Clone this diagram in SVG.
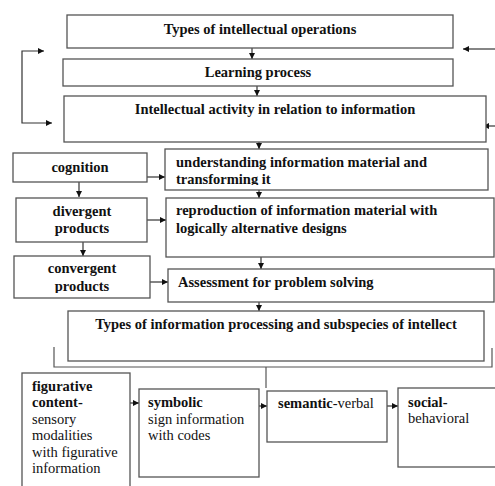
<svg xmlns="http://www.w3.org/2000/svg" width="495" height="486" viewBox="0 0 495 486">
<style>
.box{fill:#fff;stroke:#555;stroke-width:1.3}
.ln{fill:none;stroke:#333;stroke-width:1.2}
.t{font-family:"Liberation Serif","Times New Roman",serif;font-size:14.5px;fill:#111}
.b{font-weight:bold}
.c{text-anchor:middle}
</style>
<defs>
<marker id="ah" markerUnits="userSpaceOnUse" markerWidth="7" markerHeight="7" refX="6" refY="3" orient="auto-start-reverse">
<path d="M0,0 L6,3 L0,6 z" fill="#111"/>
</marker>
<clipPath id="clipU"><rect x="165" y="149" width="330" height="36"/></clipPath>
<clipPath id="clipC"><rect x="14" y="256" width="136" height="37"/></clipPath>
</defs>
<rect width="495" height="486" fill="#fff"/>
<g id="connectors">
<line class="ln" x1="252" y1="48" x2="252" y2="59" marker-end="url(#ah)"/>
<line class="ln" x1="257" y1="86" x2="257" y2="96" marker-end="url(#ah)"/>
<line class="ln" x1="259" y1="142" x2="259" y2="149" marker-end="url(#ah)"/>
<line class="ln" x1="259" y1="190" x2="259" y2="198" marker-end="url(#ah)"/>
<line class="ln" x1="261" y1="257" x2="261" y2="269" marker-end="url(#ah)"/>
<line class="ln" x1="259" y1="302" x2="259" y2="311" marker-end="url(#ah)"/>
<line class="ln" x1="147" y1="177" x2="165" y2="177" marker-end="url(#ah)"/>
<line class="ln" x1="147" y1="220" x2="166" y2="220" marker-end="url(#ah)"/>
<line class="ln" x1="150" y1="282" x2="168" y2="282" marker-end="url(#ah)"/>
<line class="ln" x1="79" y1="182" x2="79" y2="197" marker-end="url(#ah)"/>
<line class="ln" x1="83" y1="242" x2="83" y2="256" marker-end="url(#ah)"/>
<path class="ln" d="M44,51 H22 V123 H52" marker-start="url(#ah)" marker-end="url(#ah)"/>
<line class="ln" x1="495" y1="49" x2="463" y2="49" marker-end="url(#ah)"/>
<line class="ln" x1="495" y1="126" x2="483" y2="126" marker-end="url(#ah)"/>
<path class="ln" d="M54,347 V367 H492 V348" style="stroke:#555"/>
<line class="ln" x1="266" y1="367" x2="266" y2="388" style="stroke:#555"/>
<line class="ln" x1="130" y1="403" x2="139" y2="403" marker-end="url(#ah)"/>
<line class="ln" x1="259" y1="406" x2="267" y2="406" marker-end="url(#ah)"/>
<line class="ln" x1="387" y1="406" x2="398" y2="406" marker-end="url(#ah)"/>
</g>
<g id="n-types-ops">
<rect class="box" x="67" y="15" width="386" height="33"/>
<text class="t b c" x="260" y="34">Types of intellectual operations</text>
</g>
<g id="n-learning">
<rect class="box" x="63" y="59" width="390" height="27"/>
<text class="t b c" x="258" y="77">Learning process</text>
</g>
<g id="n-activity">
<rect class="box" x="64" y="96" width="422" height="46"/>
<text class="t b c" x="275" y="114">Intellectual activity in relation to information</text>
</g>
<g id="n-cognition">
<rect class="box" x="13" y="153" width="134" height="29"/>
<text class="t b c" x="80" y="172">cognition</text>
</g>
<g id="n-understanding">
<rect class="box" x="165" y="149" width="323" height="41"/>
<text class="t b" x="176" y="167">understanding information material and</text>
<text class="t b" x="176" y="184" clip-path="url(#clipU)">transforming it</text>
</g>
<g id="n-divergent">
<rect class="box" x="16" y="198" width="131" height="44"/>
<text class="t b c" x="82" y="216">divergent</text>
<text class="t b c" x="82" y="233">products</text>
</g>
<g id="n-reproduction">
<rect class="box" x="166" y="198" width="328" height="59"/>
<text class="t b" x="176" y="215">reproduction of information material with</text>
<text class="t b" x="176" y="233">logically alternative designs</text>
</g>
<g id="n-convergent">
<rect class="box" x="14" y="256" width="136" height="42"/>
<text class="t b c" x="82" y="273">convergent</text>
<text class="t b c" x="82" y="291" clip-path="url(#clipC)">products</text>
</g>
<g id="n-assessment">
<rect class="box" x="168" y="269" width="326" height="33"/>
<text class="t b" x="178" y="287">Assessment for problem solving</text>
</g>
<g id="n-types-proc">
<rect class="box" x="68" y="311" width="416" height="50"/>
<text class="t b c" x="276" y="329">Types of information processing and subspecies of intellect</text>
</g>
<g id="n-figurative">
<rect class="box" x="22" y="373" width="108" height="120"/>
<text class="t" x="32" y="391"><tspan class="b">figurative</tspan></text>
<text class="t" x="32" y="407"><tspan class="b">content-</tspan></text>
<text class="t" x="32" y="424">sensory</text>
<text class="t" x="32" y="440">modalities</text>
<text class="t" x="32" y="457">with figurative</text>
<text class="t" x="32" y="473">information</text>
</g>
<g id="n-symbolic">
<rect class="box" x="139" y="389" width="120" height="88"/>
<text class="t b" x="148" y="407">symbolic</text>
<text class="t" x="148" y="424">sign information</text>
<text class="t" x="148" y="440">with codes</text>
</g>
<g id="n-semantic">
<rect class="box" x="267" y="391" width="120" height="51"/>
<text class="t" x="278" y="408"><tspan class="b">semantic</tspan>-verbal</text>
</g>
<g id="n-social">
<rect class="box" x="398" y="388" width="110" height="79"/>
<text class="t b" x="408" y="407">social-</text>
<text class="t" x="408" y="423">behavioral</text>
</g>
</svg>
